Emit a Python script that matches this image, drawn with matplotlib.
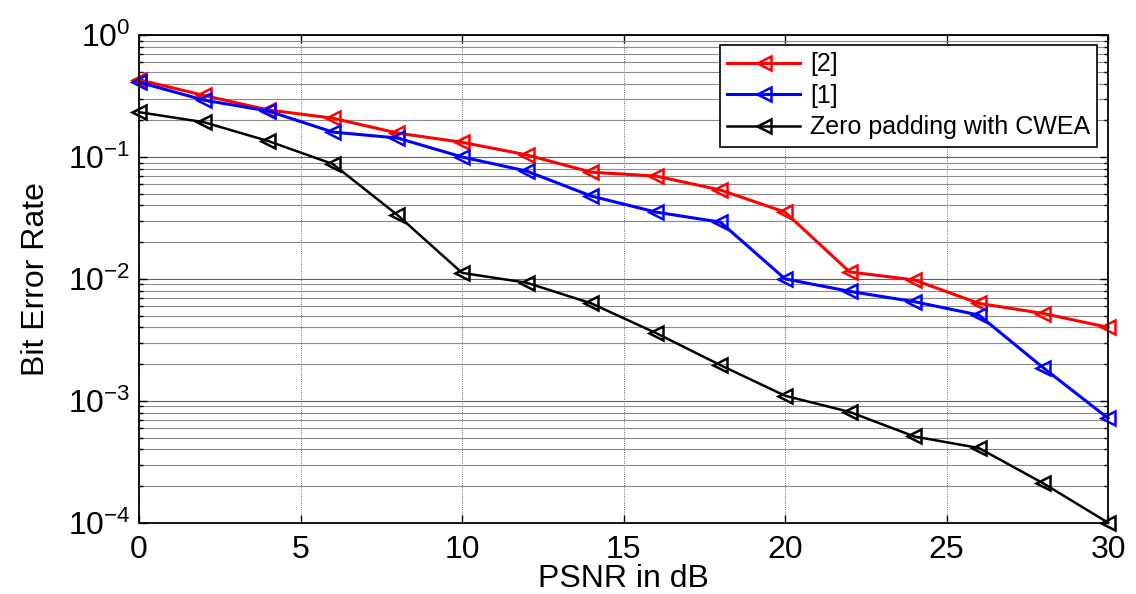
import matplotlib
matplotlib.use('Agg')
import matplotlib.pyplot as plt
from matplotlib.ticker import LogLocator, FixedLocator

plt.rcParams['font.family'] = ['Liberation Sans', 'DejaVu Sans']
plt.rcParams['mathtext.fontset'] = 'custom'
plt.rcParams['mathtext.rm'] = 'Liberation Sans'
plt.rcParams['mathtext.it'] = 'Liberation Sans'

# PSNR (dB)
psnr = [0, 2, 4, 6, 8, 10, 12, 14, 16, 18, 20, 22, 24, 26, 28, 30]

# 参考文献 [2]
ber_ref2 = [0.43, 0.32, 0.243, 0.208, 0.157, 0.132, 0.104, 0.075, 0.0697, 0.0536,
            0.0353, 0.0114, 0.0098, 0.0063, 0.0052, 0.0040]
# 参考文献 [1]
ber_ref1 = [0.41, 0.293, 0.238, 0.16, 0.143, 0.10, 0.0766, 0.0478, 0.0353, 0.0292,
            0.0100, 0.0079, 0.0065, 0.00505, 0.00186, 0.00072]
# 本文方法
ber_cwea = [0.233, 0.193, 0.135, 0.0875, 0.0334, 0.0112, 0.0093, 0.0063, 0.0036, 0.00196,
            0.0011, 0.00081, 0.00051, 0.00041, 0.00021, 0.0001]

labels = ['[2]', '[1]', 'Zero padding with CWEA']
colors = ['#ff0000', '#0000ff', '#000000']

fig = plt.figure(figsize=(11.36, 5.94), dpi=100)
ax = fig.add_axes([0.1224, 0.12, 0.8530, 0.821])

for ber, lab, c, lw in zip([ber_ref2, ber_ref1, ber_cwea], labels, colors, [2.2, 2.2, 1.8]):
    ax.semilogy(psnr, ber, color=c, lw=lw, marker='<', markersize=10.5,
                markerfacecolor='none', markeredgewidth=1.8, label=lab, clip_on=False)

ax.set_xlim(0, 30)
ax.set_ylim(1e-4, 1)
ax.xaxis.set_major_locator(FixedLocator([0, 5, 10, 15, 20, 25, 30]))
ax.yaxis.set_major_locator(LogLocator(base=10, numticks=10))
ax.yaxis.set_minor_locator(LogLocator(base=10, subs=range(2, 10), numticks=10))

ax.grid(True, which='major', axis='x', color='#404040', lw=0.6, ls=':')
ax.grid(True, which='major', axis='y', color='#606060', lw=0.8, ls='-')
ax.grid(True, which='minor', axis='y', color='#8a8a8a', lw=0.8, ls='-')

ax.tick_params(which='both', direction='in', top=True, right=True, labelsize=23)
ax.tick_params(axis='x', pad=9)
ax.tick_params(axis='y', pad=6)
ax.tick_params(which='major', length=6, width=1)
ax.tick_params(which='minor', length=3, width=1)
for s in ax.spines.values():
    s.set_linewidth(1.3)

ax.set_xlabel('PSNR in dB', fontsize=23, labelpad=-1)
ax.set_ylabel('Bit Error Rate', fontsize=23, labelpad=12)

leg = ax.legend(loc='upper right', bbox_to_anchor=(0.989, 0.98), fontsize=18,
                frameon=True, fancybox=False, edgecolor='black', framealpha=1,
                borderaxespad=0, handlelength=2.9, borderpad=0.3, labelspacing=0.3,
                handletextpad=0.4)
leg.get_frame().set_linewidth(1.2)

fig.savefig('out.png', dpi=100)
